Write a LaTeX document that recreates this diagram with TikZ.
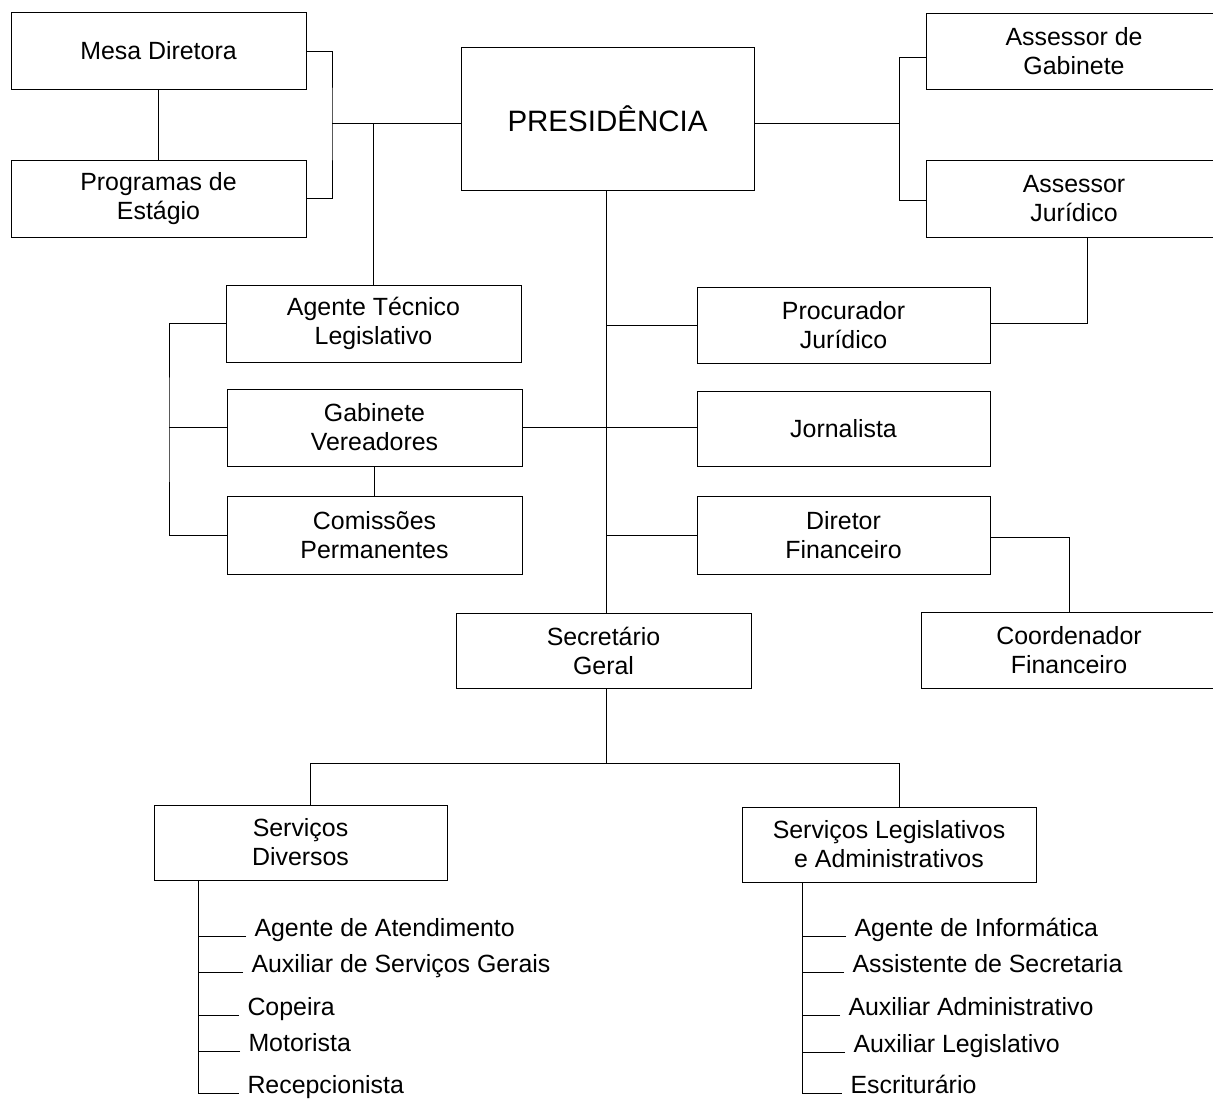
\documentclass[tikz,border=0pt]{standalone}
\usepackage{fontspec}
\setmainfont{Liberation Sans}
\usepackage{tikz}
\usetikzlibrary{calc}

\begin{document}
\begin{tikzpicture}[x=0.5pt,y=-0.5pt,line width=0.5pt]
    \tikzstyle{box}=[draw=black, rectangle, inner sep=2pt, minimum width=147.5pt, minimum height=38.5pt, align=center, font=\fontsize{12.45pt}{14.5pt}\selectfont, text=black]
    \tikzstyle{big}=[style=box, minimum width=146.5pt, minimum height=71.5pt, font=\fontsize{14.75pt}{17pt}\selectfont]
    \tikzstyle{item}=[inner sep=4pt, anchor=base west, font=\fontsize{12.45pt}{14.5pt}\selectfont, text=black]

    \useasboundingbox (0,0) rectangle (1213,1099);

    % upper part
    \node[box] (mesa)  at (158.5,51)  {Mesa Diretora};
    \node[box] (prog)  at (158.5,198.5) {Programas de\\Estágio};
    \node[big] (pres)  at (607.5,118.5) {PRESIDÊNCIA};
    \node[box,minimum width=152pt,minimum height=38pt] (asg) at (1078,51) {\hspace*{-4pt}Assessor de\\\hspace*{-4pt}Gabinete};
    \node[box,minimum width=152pt] (asj) at (1078,198.5) {\hspace*{-4pt}Assessor\\\hspace*{-4pt}Jurídico};

    % middle part
    \node[box] (atl)   at (373.5,323.5) {Agente Técnico\\Legislativo};
    \node[box] (gv)    at (374.5,427.5) {Gabinete\\Vereadores};
    \node[box,minimum height=39pt] (cp) at (374.5,535) {Comissões\\Permanentes};
    \node[box,minimum width=146.5pt,minimum height=38pt] (proc) at (843.5,325) {Procurador\\Jurídico};
    \node[box,minimum width=146.5pt,minimum height=37.5pt] (jorn) at (843.5,428.5) {Jornalista};
    \node[box,minimum width=146.5pt,minimum height=39pt] (dirf) at (843.5,535) {Diretor\\Financeiro};
    \node[box,minimum width=152pt,minimum height=38pt] (coord) at (1073,650) {\hspace*{-4pt}Coordenador\\\hspace*{-4pt}Financeiro};
    \node[box,minimum height=37.5pt] (sec) at (603.5,650.5) {Secretário\\Geral};

    % lower part
    \node[box,minimum width=146.5pt,minimum height=37.5pt] (sd)  at (300.5,842.5) {Serviços\\Diversos};
    \node[box,minimum width=147pt,minimum height=37.5pt]   (sla) at (889,844.5)   {Serviços Legislativos\\e Administrativos};

    \node[item] (d1) at (246,936)  {Agente de Atendimento};
    \node[item] (d2) at (243,972)  {Auxiliar de Serviços Gerais};
    \node[item] (d3) at (239,1015) {Copeira};
    \node[item] (d4) at (240,1051) {Motorista};
    \node[item] (d5) at (239,1093) {Recepcionista};

    \node[item] (l1) at (846,936)  {Agente de Informática};
    \node[item] (l2) at (844,972)  {Assistente de Secretaria};
    \node[item] (l3) at (840,1015) {Auxiliar Administrativo};
    \node[item] (l4) at (845,1052) {Auxiliar Legislativo};
    \node[item] (l5) at (842,1093) {Escriturário};

    \coordinate (lb)    at (332,123);
    \coordinate (rb)    at (899,123);
    \coordinate (lb2)   at (169,430);
    \coordinate (split) at (606,763);
    \coordinate (lv)    at ([xshift=-51.25pt]sd.south);
    \coordinate (rv)    at ([xshift=-43.5pt]sla.south);

    \path
     (mesa) edge (prog)
     (gv)   edge (cp)
     (lb)   edge (lb -| pres.west)
     (lb -| atl.north) edge (atl.north)
     (pres.east |- rb) edge (rb)
     (pres.south -| split) edge (split |- sec.north)
     (proc.west) edge (proc.west -| split)
     (dirf.west) edge (dirf.west -| split)
     (gv.east)   edge (gv.east -| jorn.west)
     (gv.west)   edge (gv.west -| lb2)
     (sec.south -| split) edge (split)
     ;
    \draw (mesa.east) -| (lb) |- (prog.east);
    \draw ([yshift=-3pt]asg.west) -| (rb) |- ([yshift=-0.75pt]asj.west);
    \draw ([xshift=4.5pt]asj.south) |- ([yshift=1pt]proc.east);
    \draw (atl.west) -| (lb2) |- (cp.west);
    \draw ([yshift=-1pt]dirf.east) -| ([xshift=-1.75pt]coord.north);
    \draw ([xshift=4.75pt]sd.north) |- (split) -| ([xshift=5pt]sla.north);

    % lists
    \draw (lv) |- (d5.base west);
    \draw (rv) |- (l5.base west);
    \foreach \i in {1,...,4} {
      \draw (d\i.base west) -- (d\i.base west -| lv);
      \draw (l\i.base west) -- (l\i.base west -| rv);
    }
  \end{tikzpicture}
\end{document}
